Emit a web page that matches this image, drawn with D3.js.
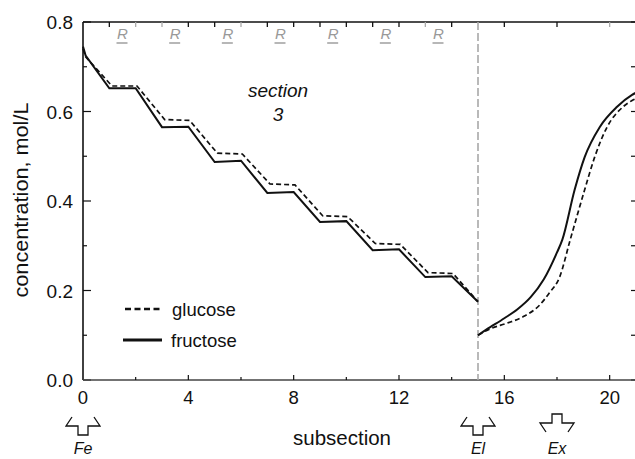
<!DOCTYPE html>
<html><head><meta charset="utf-8">
<script src="https://cdn.jsdelivr.net/npm/d3@7"></script>
<style>body{margin:0;background:#fff}svg{display:block}text{font-family:"Liberation Sans",Arial,Helvetica,sans-serif}</style>
</head><body><svg id="c" width="635" height="459"></svg>
<script>
// ---- data ----
const fructoseA = [[0,0.745],[0.1,0.725],[1,0.652],[2,0.652],[3,0.565],[4,0.566],[5,0.487],[6,0.49],[7,0.418],[8,0.42],[9,0.353],[10,0.355],[11,0.29],[12,0.292],[13,0.23],[14,0.232],[15,0.175]];
const glucoseA  = [[0,0.74],[0.1,0.722],[1.1,0.657],[2.05,0.657],[3.1,0.582],[4.05,0.58],[5.1,0.507],[6.05,0.505],[7.1,0.438],[8.05,0.436],[9.1,0.367],[10.05,0.365],[11.1,0.305],[12.05,0.303],[13.1,0.24],[14.05,0.238],[15,0.175]];
const fructoseB = [[15,0.100],[15.3,0.112],[16,0.138],[16.5,0.158],[17,0.185],[17.5,0.225],[18,0.285],[18.2,0.313],[18.67,0.425],[19.05,0.498],[19.62,0.565],[20.27,0.61],[20.85,0.637],[21,0.642]];
const glucoseB  = [[15,0.100],[15.45,0.114],[16.1,0.127],[16.7,0.141],[17.35,0.168],[17.7,0.194],[18.1,0.23],[18.5,0.313],[19.05,0.425],[19.43,0.498],[19.9,0.565],[20.5,0.61],[20.9,0.626],[21,0.629]];
const xTickLabels = [0,4,8,12,16,20];
const yTickLabels = [0.0,0.2,0.4,0.6,0.8];
const rPositions = [1.5,3.5,5.5,7.5,9.5,11.5,13.5];
const topTicks = [1,2,3,4,5,6,7,8,9,10,11,12,13,14,16,18,20];
const grayTopTicks = [2,3,6,13,20];
const ports = [{x:0,label:"Fe",dir:"up"},{x:15,label:"El",dir:"up"},{x:18,label:"Ex",dir:"down"}];
const switchX = 15;

// ---- scales ----
const svg = d3.select("#c");
const x = d3.scaleLinear().domain([0,21]).range([83,636]);
const y = d3.scaleLinear().domain([0,0.8]).range([380,22]);
const ink = "#111";

// left axis
svg.append("line").attr("x1",x(0)).attr("x2",x(0)).attr("y1",y(0.8)).attr("y2",y(0)).attr("stroke",ink).attr("stroke-width",1.6);
d3.range(0,9).forEach(i=>{
  const v=i/10, major=i%2===0;
  svg.append("line").attr("x1",x(0)).attr("x2",x(0)+(major?8:4)).attr("y1",y(v)).attr("y2",y(v)).attr("stroke",ink).attr("stroke-width",1.2);
});
svg.append("g").selectAll("text").data(yTickLabels).join("text")
  .attr("x",73).attr("y",d=>y(d)+7).attr("text-anchor","end").attr("font-size",19).attr("fill",ink)
  .text(d=>d.toFixed(1));
// right axis ticks
d3.range(0,9).forEach(i=>{
  const v=i/10;
  svg.append("line").attr("x1",x(21)).attr("x2",x(21)-5).attr("y1",y(v)).attr("y2",y(v)).attr("stroke",ink).attr("stroke-width",1.2);
});
// bottom axis
svg.append("line").attr("x1",x(0)).attr("x2",x(21)).attr("y1",y(0)).attr("y2",y(0)).attr("stroke","#444").attr("stroke-width",1.3);
d3.range(2,21,2).forEach(v=>{
  const major = v%4===0;
  svg.append("line").attr("x1",x(v)).attr("x2",x(v)).attr("y1",y(0)).attr("y2",y(0)-(major?5:3)).attr("stroke",ink).attr("stroke-width",1.2);
});
svg.append("g").selectAll("text").data(xTickLabels).join("text")
  .attr("x",d=>x(d)).attr("y",404).attr("text-anchor","middle").attr("font-size",18.5).attr("fill",ink).text(d=>d);
// top axis
svg.append("line").attr("x1",x(0)).attr("x2",x(21)).attr("y1",y(0.8)).attr("y2",y(0.8)).attr("stroke",ink).attr("stroke-width",1.6);
svg.append("g").selectAll("line").data(topTicks).join("line")
  .attr("x1",d=>x(d)).attr("x2",d=>x(d)).attr("y1",y(0.8)).attr("y2",y(0.8)+5)
  .attr("stroke",d=>grayTopTicks.includes(d)?"#aaa":ink).attr("stroke-width",1.3);
// R markers
const gR = svg.append("g").attr("fill","#999");
gR.selectAll("text").data(rPositions).join("text")
  .attr("x",d=>x(d)).attr("y",38.5).attr("text-anchor","middle").attr("font-size",15).attr("font-style","italic").text("R");
gR.selectAll("line").data(rPositions).join("line")
  .attr("x1",d=>x(d)-6).attr("x2",d=>x(d)+5).attr("y1",43).attr("y2",43).attr("stroke","#999").attr("stroke-width",1.4);

// switching line
svg.append("line").attr("x1",x(switchX)).attr("x2",x(switchX)).attr("y1",y(0.8)).attr("y2",y(0))
  .attr("stroke","#a8a8a8").attr("stroke-width",1.6).attr("stroke-dasharray","8,3");

// curves
const line = d3.line().x(d=>x(d[0])).y(d=>y(d[1]));
const lineC = d3.line().x(d=>x(d[0])).y(d=>y(d[1])).curve(d3.curveMonotoneX);
svg.append("path").datum(glucoseA).attr("d",line).attr("fill","none").attr("stroke",ink).attr("stroke-width",1.7).attr("stroke-dasharray","5,3");
svg.append("path").datum(fructoseA).attr("d",line).attr("fill","none").attr("stroke",ink).attr("stroke-width",2);
svg.append("path").datum(glucoseB).attr("d",lineC).attr("fill","none").attr("stroke",ink).attr("stroke-width",1.7).attr("stroke-dasharray","5,3");
svg.append("path").datum(fructoseB).attr("d",lineC).attr("fill","none").attr("stroke",ink).attr("stroke-width",2);

// section label
svg.append("text").attr("x",278).attr("y",97).attr("text-anchor","middle").attr("font-size",19).attr("font-style","italic").attr("fill",ink).text("section");
svg.append("text").attr("x",278).attr("y",121).attr("text-anchor","middle").attr("font-size",19).attr("font-style","italic").attr("fill",ink).text("3");

// legend
svg.append("line").attr("x1",125).attr("x2",162).attr("y1",309).attr("y2",309).attr("stroke",ink).attr("stroke-width",2.6).attr("stroke-dasharray","6,3.5");
svg.append("text").attr("x",172).attr("y",316).attr("font-size",18.5).attr("fill",ink).text("glucose");
svg.append("line").attr("x1",123).attr("x2",162).attr("y1",340).attr("y2",340).attr("stroke",ink).attr("stroke-width",3);
svg.append("text").attr("x",171).attr("y",347).attr("font-size",18.5).attr("fill",ink).text("fructose");

// axis titles
svg.append("text").attr("transform","translate(28,200) rotate(-90)").attr("text-anchor","middle").attr("font-size",20)
  .attr("textLength",195).attr("lengthAdjust","spacingAndGlyphs").attr("fill",ink).text("concentration, mol/L");
svg.append("text").attr("x",342).attr("y",445).attr("text-anchor","middle").attr("font-size",20.5).attr("fill",ink).text("subsection");

// port arrows
ports.forEach(p=>{
  const cx = x(p.x);
  const g = svg.append("g").attr("fill","none").attr("stroke",ink).attr("stroke-width",1.3);
  if(p.dir==="up"){
    const t=417;
    g.append("path").attr("d",`M${cx-11},${t} L${cx-17},${t+9} L${cx-5},${t+9} L${cx-5},${t+18} L${cx+5},${t+18} L${cx+5},${t+9} L${cx+17},${t+9} L${cx+11},${t}`);
  } else {
    const t=414;
    g.append("path").attr("d",`M${cx-11},${t+18} L${cx-17},${t+9} L${cx-5},${t+9} L${cx-5},${t} L${cx+5},${t} L${cx+5},${t+9} L${cx+17},${t+9} L${cx+11},${t+18}`);
  }
  svg.append("text").attr("x",cx).attr("y",454).attr("text-anchor","middle").attr("font-size",16).attr("font-style","italic").attr("fill",ink).text(p.label);
});
</script></body></html>
